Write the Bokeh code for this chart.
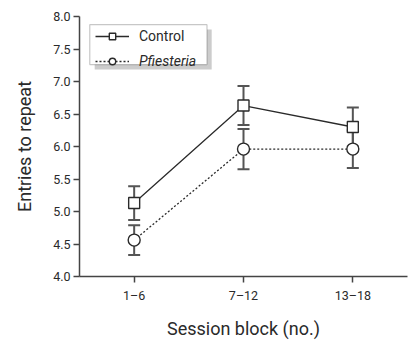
from bokeh.plotting import figure
from bokeh.models import (Range1d, FixedTicker, NumeralTickFormatter, ColumnDataSource,
                          Whisker, TeeHead, Legend, LegendItem, BoxAnnotation)
from bokeh.embed import file_html
from bokeh.resources import INLINE

blocks = ["1\u20136", "7\u201312", "13\u201318"]
control_mean = [5.13, 6.63, 6.30]
control_err = [0.26, 0.30, 0.30]
pfiesteria_mean = [4.56, 5.96, 5.96]
pfiesteria_err = [0.23, 0.31, 0.29]
y_ticks = [4.0, 4.5, 5.0, 5.5, 6.0, 6.5, 7.0, 7.5, 8.0]

xpos = list(range(1, len(blocks) + 1))
FONT = "Roboto"
INK = "#2a2a2a"
AXC = "#444444"

p = figure(width=409, height=341, output_backend="svg", toolbar_location=None,
           x_range=Range1d(0.5, 3.5), y_range=Range1d(4.0, 8.0),
           min_border_left=79, min_border_right=2, min_border_top=16, min_border_bottom=60)
p.outline_line_color = None
p.grid.visible = False

for ax in (p.xaxis[0], p.yaxis[0]):
    ax.axis_line_color = AXC
    ax.axis_line_width = 1.5
    ax.major_tick_line_color = AXC
    ax.major_tick_line_width = 1.5
    ax.major_tick_out = 6
    ax.major_tick_in = 0
    ax.minor_tick_line_color = None
    ax.major_label_text_font = FONT
    ax.major_label_text_font_size = "12.5px"
    ax.major_label_text_color = INK
    ax.axis_label_text_font = FONT
    ax.axis_label_text_font_size = "18px"
    ax.axis_label_text_font_style = "normal"
    ax.axis_label_text_color = INK

p.xaxis.ticker = FixedTicker(ticks=xpos)
p.xaxis.major_label_overrides = {i: b for i, b in zip(xpos, blocks)}
p.xaxis.major_label_standoff = 5
p.xaxis.axis_label = "Session block (no.)"
p.xaxis.axis_label_standoff = 12

p.yaxis.ticker = FixedTicker(ticks=y_ticks)
p.yaxis.formatter = NumeralTickFormatter(format="0.0")
p.yaxis.major_label_standoff = 3
p.yaxis.axis_label = "Entries to repeat"
p.yaxis.axis_label_standoff = 15

src_c = ColumnDataSource(dict(x=xpos, y=control_mean,
                              lo=[m - e for m, e in zip(control_mean, control_err)],
                              hi=[m + e for m, e in zip(control_mean, control_err)]))
src_p = ColumnDataSource(dict(x=xpos, y=pfiesteria_mean,
                              lo=[m - e for m, e in zip(pfiesteria_mean, pfiesteria_err)],
                              hi=[m + e for m, e in zip(pfiesteria_mean, pfiesteria_err)]))

# legend frame: shadow + white box
p.add_layout(BoxAnnotation(left=0.639, right=1.709, top=7.799, bottom=7.185,
                           fill_color="#cccccc", fill_alpha=1, line_color=None))
p.add_layout(BoxAnnotation(left=0.594, right=1.666, top=7.875, bottom=7.260,
                           fill_color="white", fill_alpha=1, line_color=AXC, line_width=1.2))

lc = p.line("x", "y", source=src_c, line_color=INK, line_width=1.3)
lp = p.line("x", "y", source=src_p, line_color=INK, line_width=1.3, line_dash="2 2")

for src in (src_c, src_p):
    w = Whisker(source=src, base="x", lower="lo", upper="hi", line_color="#555555", line_width=2,
                lower_head=TeeHead(size=12, line_color="#555555", line_width=2),
                upper_head=TeeHead(size=12, line_color="#555555", line_width=2))
    p.add_layout(w)

mc = p.scatter("x", "y", source=src_c, marker="square", size=11, fill_color="white",
               line_color=INK, line_width=1.4)
mp = p.scatter("x", "y", source=src_p, marker="circle", size=12, fill_color="white",
               line_color=INK, line_width=1.4)

common = dict(padding=0, margin=0, spacing=0, glyph_width=34, glyph_height=16,
              label_height=16, label_standoff=10, label_text_font=FONT,
              label_text_font_size="14px", label_text_color=INK,
              border_line_color=None, background_fill_alpha=0)
leg_c = Legend(items=[LegendItem(label="Control", renderers=[lc, mc])],
               location=(16, 232), label_text_font_style="normal", **common)
leg_p = Legend(items=[LegendItem(label="Pfiesteria", renderers=[lp, mp])],
               location=(16, 207), label_text_font_style="italic", **common)
p.add_layout(leg_c)
p.add_layout(leg_p)

open("out.html", "w").write(file_html(p, INLINE))
